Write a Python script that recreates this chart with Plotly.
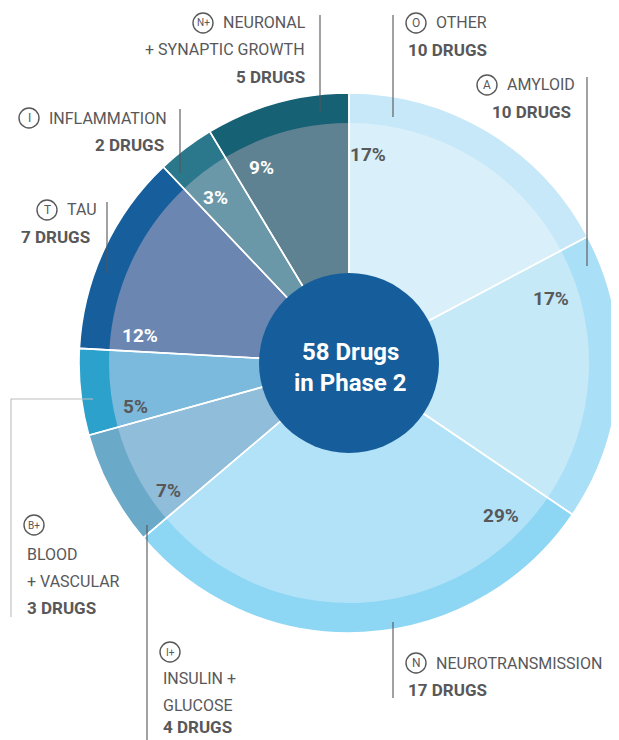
import math
import plotly.graph_objects as go

# ---------------- data ----------------
categories = ["Other", "Amyloid", "Neurotransmission", "Insulin + Glucose",
              "Blood + Vascular", "Tau", "Inflammation", "Neuronal + Synaptic Growth"]
drug_counts = [10, 10, 17, 4, 3, 7, 2, 5]
icon_codes = ["O", "A", "N", "I+", "B+", "T", "I", "N+"]
label_lines = [["OTHER"], ["AMYLOID"], ["NEUROTRANSMISSION"], ["INSULIN +", "GLUCOSE"],
               ["BLOOD", "+ VASCULAR"], ["TAU"], ["INFLAMMATION"], ["NEURONAL", "+ SYNAPTIC GROWTH"]]
phase_label = "Phase 2"

# ---------------- styles ----------------
outer_colors = ["#c6e8f8", "#a9dff7", "#8dd6f4", "#6ba9c8", "#2ca1cc", "#165e9c", "#2b788d", "#176174"]
inner_colors = ["#d9f0fb", "#c6e9f8", "#b2e2f7", "#8fbdda", "#7bb9dd", "#6b86b1", "#6b98a9", "#5f8293"]
pct_colors = ["#58585a", "#58585a", "#58585a", "#58585a", "#58585a", "#ffffff", "#ffffff", "#ffffff"]
center_color = "#155d9b"
text_color = "#58585a"
FONT = "Roboto, Lato, sans-serif"

OFF = 8                      # page body margin of the html page
W, H = 619 - OFF, 740 - OFF  # figure size
CX, CY = 349, 363            # pie centre in window pixels
R_OUT, R_IN, R_C = 270, 240, 90

# percent label placement: offset (deg) from slice start, radius (px)
LABEL_OFFSET = [5.2, 10.1, 10.9, 5.2, 4.1, 4.5, 4.5, 7.0]
LABEL_R = [209, 212, 215, 221, 218, 211, 213, 214]

# outside label layout: (align, text_x, first_line_y, icon_x, icon_y, icon_inline)
LABEL_LAYOUT = [
    ("left", 406, 23, 416, 23, True),
    ("right", 573, 85, 487, 85, True),
    ("left", 406, 663, 416, 663, True),
    ("left", 161, 678, 170, 652, False),
    ("left", 25, 554, 34, 525, False),
    ("right", 92, 210, 47, 210, True),
    ("right", 166, 118, 29, 118, True),
    ("right", 307, 23, 203, 23, True),
]
LINE_STEP = 27
ICON_GAP = 18

# leader lines (pixel polylines)
LEADERS = [
    ([(393, 15), (393, 117)], "#555555"),
    ([(587, 77), (587, 266)], "#555555"),
    ([(393, 622), (393, 698)], "#555555"),
    ([(147, 525), (147, 745)], "#555555"),
    ([(93, 399), (11, 399), (11, 617)], "#bdbdbd"),
    ([(107, 202), (107, 273)], "#555555"),
    ([(180, 109), (180, 173)], "#555555"),
    ([(320, 15), (320, 112)], "#555555"),
]


def px(x):
    return (x - OFF) / W


def py(y):
    return 1 - (y - OFF) / H


def dom(r):
    return dict(x=[max(0, px(CX - r)), min(1, px(CX + r))],
                y=[max(0, py(CY + r)), min(1, py(CY - r))])


total = sum(drug_counts)
fig = go.Figure()
common = dict(values=drug_counts, labels=categories, sort=False, direction="clockwise",
              rotation=0, textinfo="none", hoverinfo="label+value", showlegend=False)
fig.add_trace(go.Pie(**common, domain=dom(R_OUT),
                     marker=dict(colors=outer_colors, line=dict(width=0))))
fig.add_trace(go.Pie(**common, domain=dom(R_IN),
                     marker=dict(colors=inner_colors, line=dict(width=0))))
fig.add_trace(go.Pie(**common, domain=dom(R_OUT),
                     marker=dict(colors=["rgba(0,0,0,0)"] * len(drug_counts),
                                 line=dict(color="white", width=1.6))))

shapes = []
annotations = []

# center circle
shapes.append(dict(type="circle", xref="paper", yref="paper",
                   x0=px(CX - R_C), x1=px(CX + R_C), y0=py(CY + R_C), y1=py(CY - R_C),
                   fillcolor=center_color, line=dict(width=0), layer="above"))
annotations.append(dict(x=px(CX + 1), y=py(352), xref="paper", yref="paper", showarrow=False,
                        text=f"<b>{total} Drugs</b>", font=dict(family=FONT, size=24, color="white"),
                        xanchor="center", yanchor="middle"))
annotations.append(dict(x=px(CX + 1), y=py(383), xref="paper", yref="paper", showarrow=False,
                        text=f"<b>in {phase_label}</b>", font=dict(family=FONT, size=24, color="white"),
                        xanchor="center", yanchor="middle"))

# percent labels
start = 0.0
for i, v in enumerate(drug_counts):
    ang = math.radians(start + LABEL_OFFSET[i])
    x = CX + LABEL_R[i] * math.sin(ang)
    y = CY - LABEL_R[i] * math.cos(ang)
    pct = round(v / total * 100)
    annotations.append(dict(x=px(x), y=py(y), xref="paper", yref="paper", showarrow=False,
                            text=f"<b>{pct}%</b>", font=dict(family=FONT, size=19, color=pct_colors[i]),
                            xanchor="center", yanchor="middle"))
    start += v / total * 360

# leader lines
for pts, col in LEADERS:
    path = "M " + " L ".join(f"{px(x)},{py(y)}" for x, y in pts)
    shapes.append(dict(type="path", xref="paper", yref="paper", path=path,
                       line=dict(color=col, width=1.1), layer="above"))

# outside labels
for i, (align, tx, ty, ix, iy, inline) in enumerate(LABEL_LAYOUT):
    ir = 10
    shapes.append(dict(type="circle", xref="paper", yref="paper",
                       x0=px(ix - ir), x1=px(ix + ir), y0=py(iy + ir), y1=py(iy - ir),
                       line=dict(color=text_color, width=1.4), fillcolor="rgba(0,0,0,0)", layer="above"))
    code = icon_codes[i]
    annotations.append(dict(x=px(ix + 0.3), y=py(iy), xref="paper", yref="paper", showarrow=False,
                            text=code,
                            font=dict(family=FONT, size=12 if len(code) == 1 else 10, color=text_color),
                            xanchor="center", yanchor="middle"))
    lines = [(l, False) for l in label_lines[i]] + [(f"{drug_counts[i]} DRUGS", True)]
    for k, (txt, bold) in enumerate(lines):
        y = ty + k * LINE_STEP
        x, anchor = tx, align
        if inline and k == 0:
            x, anchor = ix + ICON_GAP, "left"
        if y > 725:
            y = 727
        annotations.append(dict(x=px(x), y=py(y), xref="paper", yref="paper", showarrow=False,
                                text=f"<b>{txt}</b>" if bold else txt,
                                font=dict(family=FONT, size=17 if bold else 16, color=text_color),
                                xanchor=anchor, yanchor="middle"))

fig.update_layout(width=W, height=H, margin=dict(l=0, r=0, t=0, b=0),
                  paper_bgcolor="white", plot_bgcolor="white",
                  shapes=shapes, annotations=annotations)
fig.write_html("out.html")
